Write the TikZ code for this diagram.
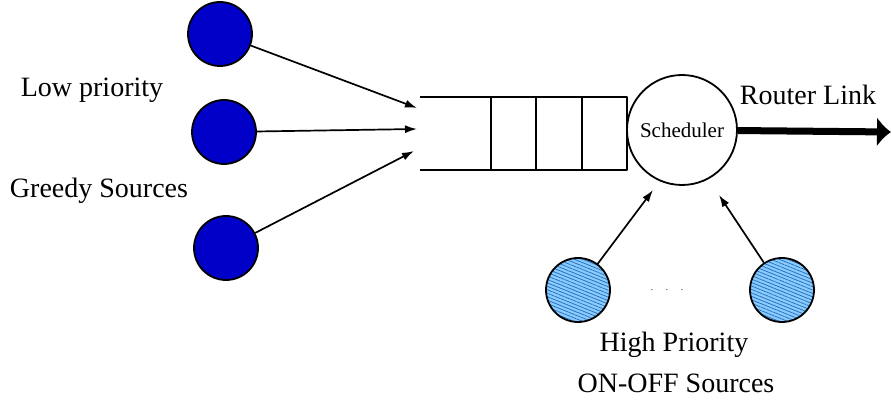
\documentclass[tikz,border=0pt]{standalone}
\usepackage{fontspec}
\setmainfont{Liberation Serif}
\usetikzlibrary{arrows,arrows.meta,patterns.meta,positioning}

\begin{document}
\begin{tikzpicture}[>={Latex[length=12bp,width=8bp]},line join=bevel,
  greedy/.style={draw,circle,line width=1.8bp,fill={rgb,255:red,0;green,0;blue,200},inner sep=0pt,minimum size=64bp},
  onoff/.style={draw,circle,line width=1.8bp,inner sep=0pt,minimum size=64bp,
    preaction={fill={rgb,255:red,135;green,205;blue,255}},
    pattern={Lines[angle=-22,distance=3.2bp,line width=0.8bp]},
    pattern color={rgb,255:red,50;green,110;blue,190}},
  lbl/.style={anchor=base,inner sep=0pt,font=\fontsize{28bp}{33bp}\selectfont},
  feed/.style={->,line width=1.7bp},
]
\useasboundingbox (0bp,0bp) rectangle (891bp,400bp);
%%
\node (g1) at (220bp,366bp) [greedy] {};
  \node (g2) at (224bp,268bp) [greedy] {};
  \node (g3) at (226bp,152bp) [greedy] {};
  \node (s1) at (578bp,110bp) [onoff] {};
  \node (s2) at (782bp,110bp) [onoff] {};
  \node (sched) at (682bp,270bp) [draw,circle,line width=1.8bp,inner sep=0pt,minimum size=110bp,font=\fontsize{21bp}{25bp}\selectfont] {Scheduler};
  \coordinate (q1) at (417bp,292bp);
  \coordinate (q2) at (417bp,271bp);
  \coordinate (q3) at (414bp,249bp);
  \coordinate (t1) at (653bp,210bp);
  \coordinate (t2) at (719bp,205bp);
  \coordinate (out) at (891bp,268bp);
  % queue
  \draw [line width=1.6bp] (420bp,303bp) -- (627bp,303bp) -- (627bp,230bp) -- (420bp,230bp);
  \foreach \x in {491,536,582}
    \draw [line width=1.6bp] (\x bp,303bp) -- (\x bp,230bp);
  % sources
  \draw [feed] (g1) -- (q1);
  \draw [feed] (g2) -- (q2);
  \draw [feed] (g3) -- (q3);
  \draw [feed] (s1) -- (t1);
  \draw [feed] (s2) -- (t2);
  \draw [line width=7bp,-{Latex[length=14bp,width=30bp]}] (sched) -- (out);
  \node (dots) at (667bp,110bp) [font=\bfseries] {$\cdot\quad\cdot\quad\cdot$};
  % labels
  \node (lowlbl) at (92bp,303bp) [lbl] {Low priority};
  \node (greedylbl) at (99bp,202bp) [lbl] {Greedy Sources};
  \node (routerlbl) at (808bp,295bp) [lbl] {Router Link};
  \node (highlbl) at (674bp,48bp) [lbl] {High Priority};
  \node (onofflbl) at (676bp,8bp) [lbl] {ON-OFF Sources};
%
\end{tikzpicture}
\end{document}
